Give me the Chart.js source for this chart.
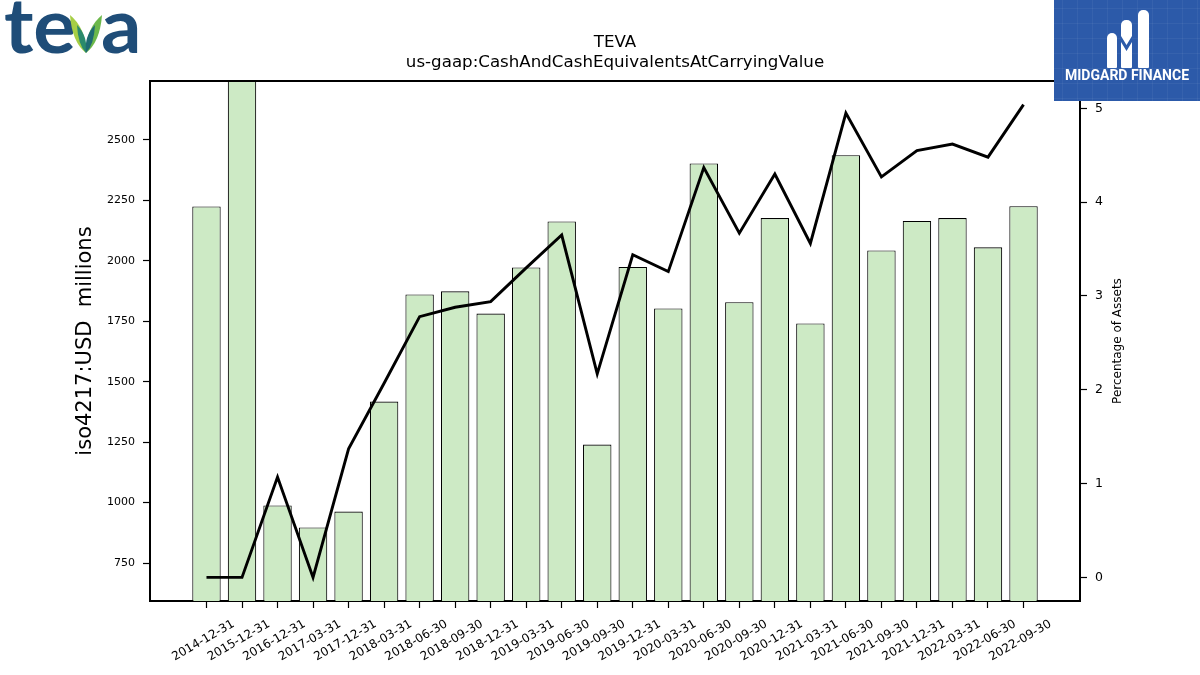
<!DOCTYPE html>
<html>
<head>
<meta charset="utf-8">
<title>TEVA cash and cash equivalents</title>
<script src="https://cdn.jsdelivr.net/npm/chart.js@4.4.1/dist/chart.umd.min.js"></script>
<style>
  html, body { margin: 0; padding: 0; background: #fff; }
  canvas { display: block; }
</style>
</head>
<body>
<canvas id="myChart" width="1200" height="675"></canvas>
<script>
// reporting periods (x categories)
const periods = [
  '2014-12-31', '2015-12-31', '2016-12-31', '2017-03-31', '2017-12-31', '2018-03-31',
  '2018-06-30', '2018-09-30', '2018-12-31', '2019-03-31', '2019-06-30', '2019-09-30',
  '2019-12-31', '2020-03-31', '2020-06-30', '2020-09-30', '2020-12-31', '2021-03-31',
  '2021-06-30', '2021-09-30', '2021-12-31', '2022-03-31', '2022-06-30', '2022-09-30'
];
// cash and cash equivalents, USD millions (bars, left axis)
const cashMillions = [
  2225, 6181, 988, 897, 963, 1418,
  1861, 1874, 1782, 1973, 2163, 1240,
  1975, 1803, 2403, 1829, 2177, 1741,
  2437, 2043, 2165, 2177, 2056, 2226
];
// cash as a percentage of total assets (line, right axis)
const pctOfAssets = [
  0, 0, 1.07, 0, 1.37, 2.07,
  2.78, 2.88, 2.94, 3.30, 3.65, 2.17,
  3.44, 3.26, 4.37, 3.67, 4.30, 3.56,
  4.95, 4.27, 4.55, 4.62, 4.48, 5.04
];
const cashTicks = [750, 1000, 1250, 1500, 1750, 2000, 2250, 2500];
const pctTicks = [0, 1, 2, 3, 4, 5];

Chart.defaults.font.family = 'DejaVu Sans';
Chart.defaults.color = '#000';

// top spine of the axes box
const frameTop = {
  id: 'frameTop',
  afterDatasetsDraw(chart) {
    const { ctx, chartArea } = chart;
    ctx.save();
    ctx.strokeStyle = '#000';
    ctx.lineWidth = 2;
    ctx.beginPath();
    ctx.moveTo(chartArea.left - 1, chartArea.top);
    ctx.lineTo(chartArea.right + 1, chartArea.top);
    ctx.stroke();
    ctx.restore();
  }
};

// right axis title reads bottom-to-top, like matplotlib
const rightTitle = {
  id: 'rightTitle',
  afterDraw(chart) {
    const { ctx, chartArea } = chart;
    ctx.save();
    ctx.translate(1118, (chartArea.top + chartArea.bottom) / 2);
    ctx.rotate(-Math.PI / 2);
    ctx.font = '12px "DejaVu Sans"';
    ctx.fillStyle = '#000';
    ctx.textAlign = 'center';
    ctx.textBaseline = 'middle';
    ctx.fillText('Percentage of Assets', 0, 0);
    ctx.restore();
  }
};

// company + publisher logos
const logos = {
  id: 'logos',
  afterDraw(chart) {
    const ctx = chart.ctx;
    ctx.save();

    // teva wordmark
    ctx.fillStyle = '#1f4d78';
    ctx.font = 'bold 76px Lato';
    ctx.textBaseline = 'alphabetic';
    ctx.save();
    ctx.translate(4, 53);
    ctx.scale(1.05, 1);
    ctx.fillText('te', 0, 0);
    ctx.restore();
    ctx.save();
    ctx.translate(101, 53);
    ctx.scale(1.05, 1);
    ctx.fillText('a', 0, 0);
    ctx.restore();

    function leaf(pts, color) {
      ctx.fillStyle = color;
      ctx.beginPath();
      ctx.moveTo(pts[0], pts[1]);
      ctx.quadraticCurveTo(pts[2], pts[3], pts[4], pts[5]);
      ctx.quadraticCurveTo(pts[6], pts[7], pts[0], pts[1]);
      ctx.fill();
    }
    leaf([70, 15, 72, 42, 86, 53, 86, 28], '#a6ce45');
    leaf([77, 25, 78, 45, 86, 53, 88, 36], '#2b8a6c');
    leaf([102, 15, 100, 42, 86, 53, 86, 28], '#6cb84a');
    leaf([95, 25, 94, 45, 86, 53, 84, 36], '#1f6a72');

    // midgard finance badge
    ctx.fillStyle = '#2c5aa9';
    ctx.fillRect(1054, 0, 146, 101);
    ctx.strokeStyle = 'rgba(255,255,255,0.05)';
    ctx.lineWidth = 1;
    for (let gx = 1062; gx < 1200; gx += 15) {
      ctx.beginPath(); ctx.moveTo(gx + 0.5, 0); ctx.lineTo(gx + 0.5, 101); ctx.stroke();
    }
    for (let gy = 8; gy < 101; gy += 15) {
      ctx.beginPath(); ctx.moveTo(1054, gy + 0.5); ctx.lineTo(1200, gy + 0.5); ctx.stroke();
    }
    ctx.fillStyle = '#fff';
    ctx.beginPath(); ctx.roundRect(1107, 33, 10, 35, [5, 5, 1, 1]); ctx.fill();
    ctx.beginPath(); ctx.roundRect(1121, 20, 11, 48, [5, 5, 1, 1]); ctx.fill();
    ctx.beginPath(); ctx.roundRect(1138, 10, 11, 58, [5, 5, 1, 1]); ctx.fill();
    ctx.fillStyle = '#2c5aa9';
    ctx.beginPath();
    ctx.moveTo(1121, 36); ctx.lineTo(1126.5, 45); ctx.lineTo(1132, 36);
    ctx.lineTo(1132, 42); ctx.lineTo(1126.5, 51); ctx.lineTo(1121, 42);
    ctx.closePath(); ctx.fill();
    ctx.fillStyle = '#fff';
    ctx.font = 'bold 14px Roboto';
    ctx.textAlign = 'center';
    ctx.textBaseline = 'middle';
    ctx.fillText('MIDGARD FINANCE', 1127, 76, 132);

    ctx.restore();
  }
};

const ctx = document.getElementById('myChart').getContext('2d');
new Chart(ctx, {
  type: 'bar',
  data: {
    datasets: [
      {
        type: 'line',
        label: 'Percentage of Assets',
        data: pctOfAssets.map((v, i) => ({ x: i, y: v })),
        yAxisID: 'y1',
        borderColor: '#000',
        borderWidth: 2.9,
        pointRadius: 0,
        tension: 0,
        order: 0
      },
      {
        type: 'bar',
        label: 'CashAndCashEquivalentsAtCarryingValue',
        data: cashMillions.map((v, i) => ({ x: i, y: v })),
        yAxisID: 'y',
        backgroundColor: '#cdeac5',
        borderColor: '#000',
        borderWidth: 1.1,
        barPercentage: 0.8,
        categoryPercentage: 1.0,
        order: 1
      }
    ]
  },
  options: {
    responsive: false,
    devicePixelRatio: 1,
    animation: false,
    events: [],
    layout: { padding: 0 },
    plugins: {
      legend: { display: false },
      tooltip: { enabled: false },
      title: {
        display: true,
        fullSize: false,
        text: ['TEVA', 'us-gaap:CashAndCashEquivalentsAtCarryingValue'],
        font: { size: 16.67, weight: 'normal', lineHeight: 1.2 },
        color: '#000',
        padding: { top: 33, bottom: 8 }
      }
    },
    scales: {
      x: {
        type: 'linear',
        offset: false,
        min: -1.59,
        max: 24.59,
        afterBuildTicks: (scale) => { scale.ticks = periods.map((p, i) => ({ value: i })); },
        afterFit: (scale) => { scale.height = 74; },
        grid: { display: true, drawOnChartArea: false, offset: false, color: '#000', tickLength: 7, tickWidth: 1.2 },
        border: { display: true, color: '#000', width: 2 },
        ticks: {
          autoSkip: false,
          maxRotation: 30,
          minRotation: 30,
          labelOffset: 27,
          padding: 9,
          font: { size: 12 },
          callback: (v) => periods[v]
        }
      },
      y: {
        position: 'left',
        min: 593,
        max: 2744,
        afterBuildTicks: (scale) => { scale.ticks = cashTicks.map(v => ({ value: v })); },
        afterFit: (scale) => { scale.width = 150; },
        grid: { display: true, drawOnChartArea: false, color: '#000', tickLength: 7, tickWidth: 1.2 },
        border: { display: true, color: '#000', width: 2 },
        ticks: { padding: 8, font: { size: 11 }, callback: (v) => String(v) },
        title: {
          display: true,
          text: 'iso4217:USD  millions',
          font: { size: 21, lineHeight: 1.2 },
          color: '#000',
          padding: { top: 73, bottom: 0 }
        }
      },
      y1: {
        position: 'right',
        min: -0.252,
        max: 5.292,
        afterBuildTicks: (scale) => { scale.ticks = pctTicks.map(v => ({ value: v })); },
        afterFit: (scale) => { scale.width = 120; },
        grid: { display: true, drawOnChartArea: false, color: '#000', tickLength: 7, tickWidth: 1.2 },
        border: { display: true, color: '#000', width: 2 },
        ticks: { padding: 8, font: { size: 12.5 }, callback: (v) => String(v) }
      }
    }
  },
  plugins: [frameTop, rightTitle, logos]
});
</script>
</body>
</html>
